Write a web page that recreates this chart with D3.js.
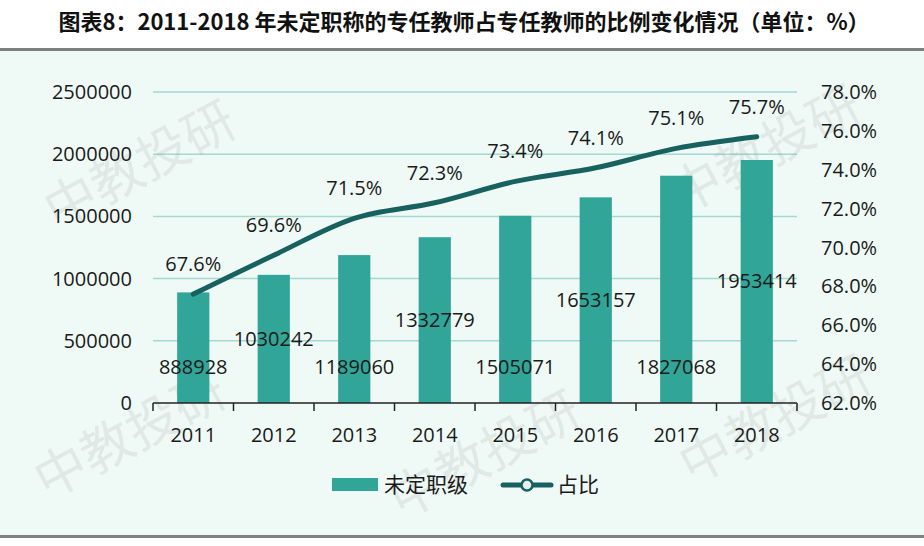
<!DOCTYPE html>
<html>
<head>
<meta charset="utf-8">
<script src="https://cdn.jsdelivr.net/npm/d3@7"></script>
<style>
  body { margin: 0; background: #fff; }
  svg { display: block; font-family: "Open Sans", "Noto Sans CJK SC", sans-serif; }
</style>
</head>
<body>
<div id="chart"></div>
<script>
const years = ["2011", "2012", "2013", "2014", "2015", "2016", "2017", "2018"];
const counts = [888928, 1030242, 1189060, 1332779, 1505071, 1653157, 1827068, 1953414];
const shares = [67.6, 69.6, 71.5, 72.3, 73.4, 74.1, 75.1, 75.7];
const leftTicks = [0, 500000, 1000000, 1500000, 2000000, 2500000];
const rightTicks = [62, 64, 66, 68, 70, 72, 74, 76, 78];
const title = "图表8：2011-2018 年未定职称的专任教师占专任教师的比例变化情况（单位：%）";
const seriesNames = ["未定职级", "占比"];

const width = 924, height = 546;
const margin = { top: 92, right: 127, bottom: 143, left: 153 };
const barColor = "#31a597";
const lineColor = "#17615e";

const svg = d3.select("#chart").append("svg")
  .attr("width", width)
  .attr("height", height);

// panel background + rules
svg.append("rect").attr("x", 0).attr("y", 51).attr("width", width).attr("height", 485).attr("fill", "#effaf6");
svg.append("rect").attr("x", 0).attr("y", 48).attr("width", width).attr("height", 3).attr("fill", "#808080");
svg.append("rect").attr("x", 0).attr("y", 535).attr("width", width).attr("height", 3).attr("fill", "#808080");

svg.append("text")
  .attr("x", width / 2 + 2)
  .attr("y", 30)
  .attr("text-anchor", "middle")
  .attr("font-family", "'Noto Sans CJK SC', sans-serif")
  .attr("font-weight", "bold")
  .attr("font-size", 22)
  .attr("fill", "#111")
  .text(title);

const x = d3.scaleBand()
  .domain(years)
  .range([margin.left, width - margin.right])
  .paddingInner(0.6)
  .paddingOuter(0.3);

const y = d3.scaleLinear()
  .domain([0, 2500000])
  .range([height - margin.bottom, margin.top]);

const y2 = d3.scaleLinear()
  .domain([62, 78])
  .range([height - margin.bottom, margin.top]);

// grid
svg.append("g")
  .selectAll("line")
  .data(leftTicks.slice(1))
  .join("line")
  .attr("x1", margin.left)
  .attr("x2", width - margin.right)
  .attr("y1", (d) => y(d))
  .attr("y2", (d) => y(d))
  .attr("stroke", "#a3d9cf")
  .attr("stroke-width", 1.5);

// watermark
const marks = [[140, 165], [765, 150], [130, 435], [485, 455], [775, 420]];
svg.append("g")
  .selectAll("text")
  .data(marks)
  .join("text")
  .attr("transform", (d) => `translate(${d[0]},${d[1]}) rotate(-28)`)
  .attr("text-anchor", "middle")
  .attr("dy", "0.35em")
  .attr("font-family", "'Noto Sans CJK SC', sans-serif")
  .attr("font-size", 52)
  .attr("fill", "#8a8a8a")
  .attr("fill-opacity", 0.14)
  .text("中教投研");

// bars
svg.append("g")
  .selectAll("rect")
  .data(counts)
  .join("rect")
  .attr("x", (d, i) => x(years[i]))
  .attr("y", (d) => y(d))
  .attr("width", x.bandwidth())
  .attr("height", (d) => y(0) - y(d))
  .attr("fill", barColor);

// x axis
const xAxis = svg.append("g")
  .attr("transform", `translate(0,${y(0)})`);
xAxis.append("line")
  .attr("x1", margin.left).attr("x2", width - margin.right)
  .attr("stroke", "#222").attr("stroke-width", 1.5);
const step = x.step();
xAxis.selectAll(".tick")
  .data(d3.range(years.length + 1))
  .join("line")
  .attr("class", "tick")
  .attr("x1", (i) => margin.left + i * step)
  .attr("x2", (i) => margin.left + i * step)
  .attr("y1", 0).attr("y2", 8)
  .attr("stroke", "#222").attr("stroke-width", 1.5);
xAxis.selectAll(".lbl")
  .data(years)
  .join("text")
  .attr("class", "lbl")
  .attr("x", (d) => x(d) + x.bandwidth() / 2)
  .attr("y", 39)
  .attr("text-anchor", "middle")
  .attr("font-size", 20)
  .attr("fill", "#1a1a1a")
  .text((d) => d);

// left axis labels
svg.append("g")
  .selectAll("text")
  .data(leftTicks)
  .join("text")
  .attr("x", 132)
  .attr("y", (d) => y(d))
  .attr("dy", "0.35em")
  .attr("text-anchor", "end")
  .attr("font-size", 20)
  .attr("fill", "#1a1a1a")
  .text((d) => d);

// right axis labels
svg.append("g")
  .selectAll("text")
  .data(rightTicks)
  .join("text")
  .attr("x", 821)
  .attr("y", (d) => y2(d))
  .attr("dy", "0.35em")
  .attr("font-size", 20)
  .attr("fill", "#1a1a1a")
  .text((d) => d.toFixed(1) + "%");

// line
const cx = (i) => x(years[i]) + x.bandwidth() / 2;
const line = d3.line()
  .x((d, i) => cx(i))
  .y((d) => y2(d))
  .curve(d3.curveMonotoneX);
svg.append("path")
  .datum(shares)
  .attr("d", line)
  .attr("fill", "none")
  .attr("stroke", lineColor)
  .attr("stroke-width", 5)
  .attr("stroke-linecap", "round");

svg.append("g")
  .selectAll("text")
  .data(shares)
  .join("text")
  .attr("x", (d, i) => cx(i))
  .attr("y", (d) => y2(d) - 30)
  .attr("dy", "0.35em")
  .attr("text-anchor", "middle")
  .attr("font-size", 20)
  .attr("fill", "#1a1a1a")
  .text((d) => d.toFixed(1) + "%");

// bar value labels: alternate between near the base and the bar middle
svg.append("g")
  .selectAll("text")
  .data(counts)
  .join("text")
  .attr("x", (d, i) => cx(i))
  .attr("y", (d, i) => (i % 2 === 0 ? y(0) - 36 : y(d / 2)))
  .attr("dy", "0.35em")
  .attr("text-anchor", "middle")
  .attr("font-size", 20)
  .attr("fill", "#1a1a1a")
  .text((d) => d);

// legend
const lg = svg.append("g").attr("transform", "translate(332,485)");
lg.append("rect").attr("x", 0).attr("y", -7).attr("width", 46).attr("height", 13).attr("fill", barColor);
lg.append("text").attr("x", 52).attr("y", 0).attr("dy", "0.35em")
  .attr("font-family", "'Noto Sans CJK SC', sans-serif")
  .attr("font-size", 21).attr("fill", "#1a1a1a").text(seriesNames[0]);
lg.append("line").attr("x1", 171).attr("x2", 219).attr("y1", 0).attr("y2", 0)
  .attr("stroke", lineColor).attr("stroke-width", 5).attr("stroke-linecap", "round");
lg.append("circle").attr("cx", 195).attr("cy", 0).attr("r", 5.5)
  .attr("fill", "#e8f0ee").attr("stroke", lineColor).attr("stroke-width", 2.5);
lg.append("text").attr("x", 225).attr("y", 0).attr("dy", "0.35em")
  .attr("font-family", "'Noto Sans CJK SC', sans-serif")
  .attr("font-size", 21).attr("fill", "#1a1a1a").text(seriesNames[1]);
</script>
</body>
</html>
